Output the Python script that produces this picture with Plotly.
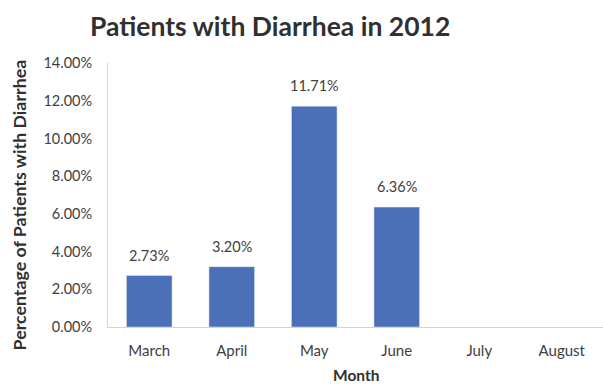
import plotly.graph_objects as go

months = ["March", "April", "May", "June", "July", "August"]
values = [2.73, 3.20, 11.71, 6.36, None, None]
labels = ["2.73%", "3.20%", "11.71%", "6.36%", "", ""]
y_ticks = [0, 2, 4, 6, 8, 10, 12, 14]
y_tick_text = ["0.00%", "2.00%", "4.00%", "6.00%", "8.00%", "10.00%", "12.00%", "14.00%"]

fig = go.Figure(go.Bar(
    x=months, y=values,
    marker=dict(color="#4C70B7"),
))
for m, v, t in zip(months, values, labels):
    if v is not None:
        fig.add_annotation(x=m, y=v, text=t, showarrow=False, yanchor="bottom",
                           yshift=10, font=dict(size=14.5, color="#404040", family="Lato"))

# axis titles
fig.add_annotation(text="<b>Percentage of Patients with Diarrhea</b>", textangle=-90,
                   xref="paper", yref="paper", x=-0.179, y=0.462,
                   xanchor="center", yanchor="middle", showarrow=False,
                   font=dict(size=17.8, color="#303030", family="Lato"))
fig.add_annotation(text="<b>Month</b>", xref="paper", yref="paper", x=0.5, y=-0.182,
                   xanchor="center", yanchor="middle", showarrow=False,
                   font=dict(size=15.5, color="#303030", family="Lato"))

fig.update_layout(
    width=603, height=384,
    margin=dict(l=108, r=0, t=63, b=57),
    paper_bgcolor="white", plot_bgcolor="white",
    bargap=0.447, showlegend=False,
    font=dict(family="Lato", color="#404040"),
    title=dict(text="<b>Patients with Diarrhea in 2012</b>", x=0.448, xanchor="center",
               y=0.93, yanchor="middle",
               font=dict(size=26.5, color="#303030", family="Lato")),
)
fig.update_yaxes(range=[0, 14], tickvals=y_ticks, ticktext=y_tick_text,
                 showgrid=False, showline=True, linecolor="#d4d4d4",
                 ticks="outside", ticklen=12, tickcolor="rgba(0,0,0,0)",
                 tickfont=dict(size=14.5, color="#404040"),
                 zeroline=False, automargin=False)
fig.update_xaxes(showgrid=False, showline=True, linecolor="#d4d4d4",
                 ticks="outside", ticklen=10, tickcolor="rgba(0,0,0,0)",
                 tickfont=dict(size=15, color="#404040"), automargin=False)
fig.write_html("out.html")
